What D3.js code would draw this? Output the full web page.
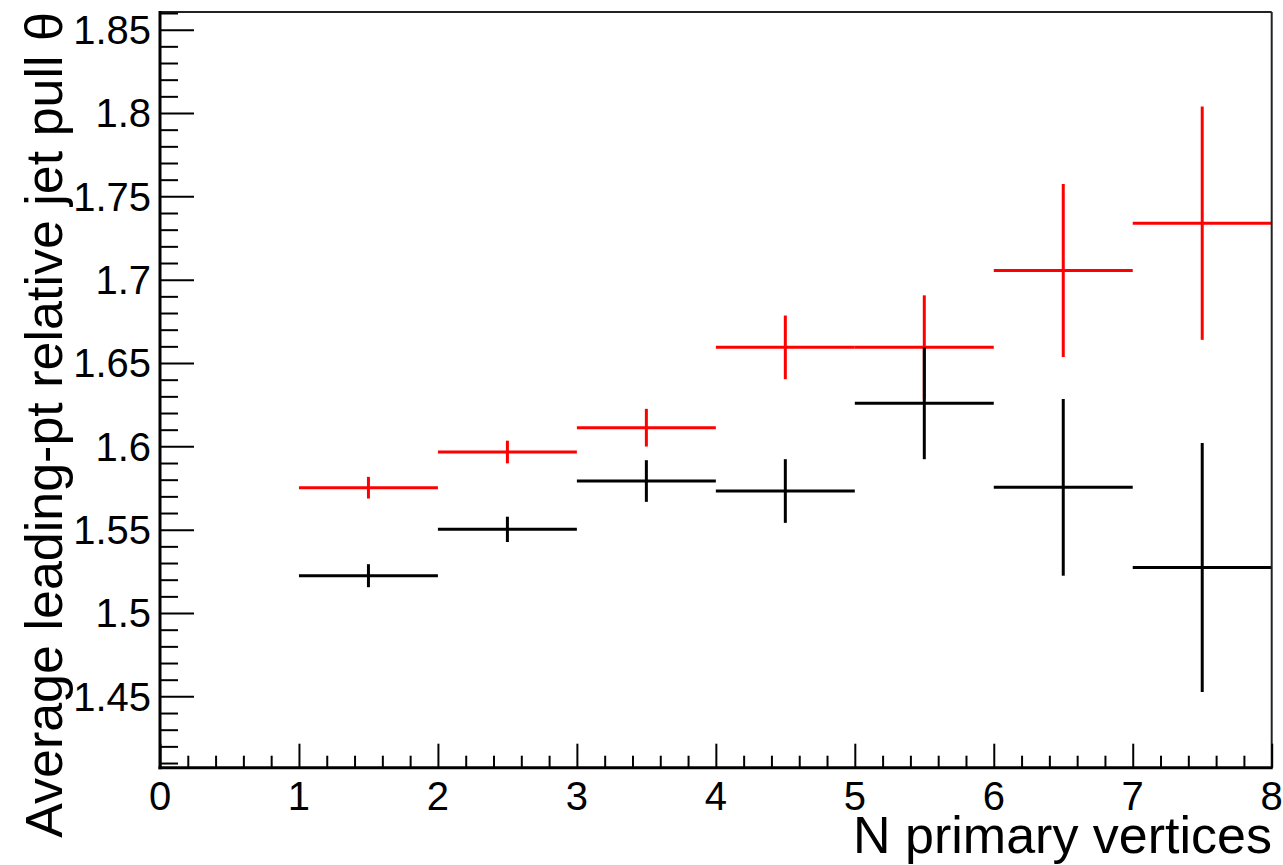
<!DOCTYPE html>
<html>
<head>
<meta charset="utf-8">
<script src="https://cdn.jsdelivr.net/npm/d3@7"></script>
<style>
  html, body { margin: 0; padding: 0; background: #fff; }
  svg { display: block; }
  text { font-family: "Liberation Sans", Arial, Helvetica, sans-serif; fill: #000; }
</style>
</head>
<body>
<svg id="chart" width="1283" height="865"></svg>
<script>
// ---- data ----
const binLow = [1, 2, 3, 4, 5, 6, 7];
const binHigh = [2, 3, 4, 5, 6, 7, 8];
const redValues = [1.5752, 1.5966, 1.6112, 1.6594, 1.6594, 1.7055, 1.7339];
const redErrors = [0.0065, 0.0068, 0.0113, 0.0191, 0.0312, 0.0519, 0.0700];
const blackValues = [1.5224, 1.5502, 1.5792, 1.5732, 1.6258, 1.5754, 1.5273];
const blackErrors = [0.0069, 0.0076, 0.0125, 0.0191, 0.0335, 0.0530, 0.0747];
const xTickLabels = ["0", "1", "2", "3", "4", "5", "6", "7", "8"];
const yTickLabels = ["1.45", "1.5", "1.55", "1.6", "1.65", "1.7", "1.75", "1.8", "1.85"];
const xTitle = "N primary vertices";
const yTitle = "Average leading-pt relative jet pull \u03b8";

// ---- layout ----
const padL = 160, padR = 1271.7, padT = 12, padB = 767.7;
const svg = d3.select("#chart");

const x = d3.scaleLinear().domain([0, 8]).range([padL, padR]);
const y = d3.scaleLinear().domain([1.4072, 1.8606]).range([padB, padT]);

// ---- data marks ----
function drawSeries(vals, errs, color) {
  const g = svg.append("g").attr("stroke", color).attr("stroke-width", 3).attr("fill", "none");
  vals.forEach((v, i) => {
    const xc = (binLow[i] + binHigh[i]) / 2;
    g.append("line")
      .attr("x1", x(binLow[i])).attr("x2", x(binHigh[i]))
      .attr("y1", y(v)).attr("y2", y(v));
    g.append("line")
      .attr("x1", x(xc)).attr("x2", x(xc))
      .attr("y1", y(v - errs[i])).attr("y2", y(v + errs[i]));
  });
}
drawSeries(redValues, redErrors, "#ff0000");
drawSeries(blackValues, blackErrors, "#000000");

// ---- frame (top/right) ----
svg.append("line").attr("x1", padL).attr("x2", padR).attr("y1", padT).attr("y2", padT)
  .attr("stroke", "#222").attr("stroke-width", 2);
svg.append("line").attr("x1", padR).attr("x2", padR).attr("y1", padT).attr("y2", padB)
  .attr("stroke", "#222").attr("stroke-width", 2);

// ---- x axis ----
const xMinor = d3.range(0, 41).map(i => i * 0.2).filter(v => Math.abs(v - Math.round(v)) > 1e-6);
const xAxisMinor = d3.axisTop(x).tickValues(xMinor).tickSize(12).tickFormat("");
const xAxisMajor = d3.axisTop(x).tickValues(xTickLabels.map(Number)).tickSize(24).tickFormat("");
[xAxisMinor, xAxisMajor].forEach(ax => {
  const g = svg.append("g").attr("transform", `translate(0,${padB})`).call(ax);
  g.select(".domain").remove();
  g.selectAll(".tick line").attr("stroke", "#000").attr("stroke-width", 2);
});
svg.append("g").selectAll("text").data(xTickLabels).join("text")
  .attr("x", d => x(+d)).attr("y", 810)
  .attr("text-anchor", "middle").attr("font-size", 40).text(d => d);

// ---- y axis ----
const yMinor = d3.range(141, 187).map(i => i / 100).filter(v => Math.abs(v * 20 - Math.round(v * 20)) > 1e-6);
const yAxisMinor = d3.axisRight(y).tickValues(yMinor).tickSize(18).tickFormat("");
const yAxisMajor = d3.axisRight(y).tickValues(yTickLabels.map(Number)).tickSize(34).tickFormat("");
[yAxisMinor, yAxisMajor].forEach(ax => {
  const g = svg.append("g").attr("transform", `translate(${padL},0)`).call(ax);
  g.select(".domain").remove();
  g.selectAll(".tick line").attr("stroke", "#000").attr("stroke-width", 2);
});
svg.append("g").selectAll("text").data(yTickLabels).join("text")
  .attr("x", 151).attr("y", d => y(+d)).attr("dy", "0.36em")
  .attr("text-anchor", "end").attr("font-size", 40).text(d => d);

// ---- axis lines (left/bottom) ----
svg.append("line").attr("x1", padL).attr("x2", padL).attr("y1", padT - 1).attr("y2", padB + 1.5)
  .attr("stroke", "#000").attr("stroke-width", 3);
svg.append("line").attr("x1", padL - 1.5).attr("x2", padR + 1).attr("y1", padB).attr("y2", padB)
  .attr("stroke", "#000").attr("stroke-width", 3);

// ---- titles ----
svg.append("text").attr("x", 1272).attr("y", 853)
  .attr("text-anchor", "end").attr("font-size", 52).text(xTitle);
svg.append("text").attr("transform", "translate(62,12) rotate(-90)")
  .attr("text-anchor", "end").attr("font-size", 52).text(yTitle);
</script>
</body>
</html>
